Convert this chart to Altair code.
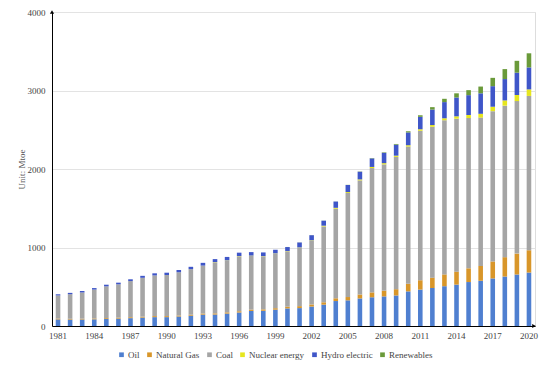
import altair as alt
import pandas as pd

years = list(range(1981, 2021))
oil = [84, 82, 83, 85, 89, 94, 100, 107, 113, 113,
       121, 131, 145, 146, 158, 172, 192, 194, 208, 224,
       228, 248, 272, 318, 327, 351, 366, 377, 389, 441,
       464, 484, 507, 527, 560, 576, 606, 630, 656, 681]
gas = [11, 10, 10, 11, 11, 12, 12, 12, 13, 13,
       13, 13, 14, 15, 16, 16, 17, 18, 19, 22,
       25, 26, 30, 35, 42, 50, 62, 73, 80, 97,
       119, 132, 150, 165, 175, 189, 216, 247, 266, 284]
coal = [294, 313, 334, 368, 405, 425, 460, 495, 518, 524,
        550, 580, 610, 650, 660, 700, 685, 675, 695, 706,
        744, 812, 966, 1141, 1325, 1454, 1584, 1609, 1685, 1748,
        1904, 1922, 1964, 1949, 1914, 1890, 1915, 1930, 1943, 1966]
nuclear = [0, 0, 0, 0, 0, 0, 0, 0, 0, 0,
           0, 0, 0.4, 3.2, 2.9, 3.2, 3.3, 3.2, 3.4, 3.8,
           4.0, 5.7, 9.8, 11.4, 12.0, 12.4, 14.1, 15.5, 15.9, 16.7,
           19.5, 22.0, 25.3, 30.0, 38.6, 48.2, 56.2, 66.6, 78, 83]
hydro = [15, 17, 19, 19, 21, 21, 23, 25, 27, 29,
         28, 30, 35, 38, 43, 43, 44, 47, 46, 50,
         63, 65, 64, 80, 90, 98, 109, 132, 140, 163,
         158, 197, 206, 240, 253, 261, 262, 272, 284, 280]
renewables = [0, 0, 0, 0, 0, 0, 0, 0, 0, 0,
              0, 0, 0, 0, 0, 0, 0, 0, 0, 1,
              1, 1, 1, 1, 2, 3, 4, 6, 9, 15,
              20, 31, 42, 53, 64, 86, 106, 127, 151, 180]

series_names = ["Oil", "Natural Gas", "Coal", "Nuclear energy", "Hydro electric", "Renewables"]
series_values = [oil, gas, coal, nuclear, hydro, renewables]
colors = ["#4F7FD0", "#D8962A", "#A5A5A5", "#E6E61E", "#3F56C8", "#6A9A3A"]
x_tick_values = list(range(1981, 2021, 3))

rows = []
for si, (name, vals) in enumerate(zip(series_names, series_values)):
    for y, v in zip(years, vals):
        rows.append({"Year": y, "Source": name, "Value": v, "order": si})
df = pd.DataFrame(rows)

FONT = "Liberation Serif"

bars = alt.Chart(df).mark_bar().encode(
    x=alt.X("Year:O",
            scale=alt.Scale(paddingInner=0.62, paddingOuter=0.31),
            axis=alt.Axis(values=x_tick_values, labelAngle=0, title=None, ticks=False,
                          domainColor="#000000", labelFont=FONT, labelFontSize=9,
                          labelColor="#444444", labelPadding=5, grid=False)),
    y=alt.Y("Value:Q", stack="zero",
            scale=alt.Scale(domain=[0, 4000], nice=False),
            axis=alt.Axis(values=list(range(0, 4001, 500)), format="d", title="Unit: Mtoe",
                          ticks=False, domainColor="#000000", labelFont=FONT, labelFontSize=9,
                          labelColor="#444444", labelPadding=7, titleFont=FONT,
                          titleFontSize=9, titleFontWeight="normal", titleColor="#555555",
                          titlePadding=1, gridColor="#E3E3E3")),
    color=alt.Color("Source:N",
                    scale=alt.Scale(domain=series_names, range=colors),
                    legend=alt.Legend(title=None, orient="none", direction="horizontal",
                                      legendX=65, legendY=338, symbolType="square",
                                      symbolSize=22, symbolStrokeWidth=0,
                                      labelFont=FONT, labelFontSize=9, labelColor="#444444",
                                      labelOffset=2, columnPadding=5)),
    order=alt.Order("order:Q", sort="ascending"),
)

arrow_up = alt.Chart(pd.DataFrame({"a": [0]})).mark_point(
    shape="triangle-up", filled=True, color="#000000", size=18, opacity=1
).encode(x=alt.value(0), y=alt.datum(4000))

arrow_right = alt.Chart(pd.DataFrame({"a": [0]})).mark_point(
    shape="triangle-right", filled=True, color="#000000", size=18, opacity=1
).encode(x=alt.value(482), y=alt.datum(0))

chart = alt.layer(bars, arrow_up, arrow_right).properties(
    width=483, height=314,
    autosize=alt.AutoSizeParams(type="none"),
    padding={"left": 44, "top": 4, "right": 7, "bottom": 43},
).configure_view(stroke=None).configure(background="#FFFFFF", font=FONT)

chart.save("out.html", embed_options={"renderer": "svg", "actions": False})
